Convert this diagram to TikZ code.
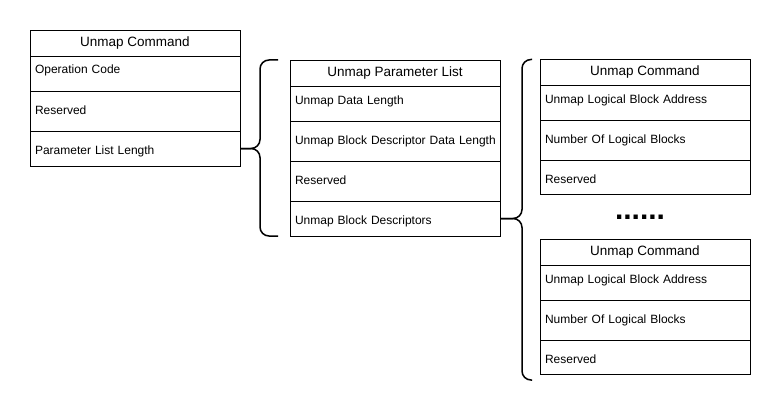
\documentclass[tikz,border=0pt]{standalone}
\usepackage{fontspec}
\setmainfont{Liberation Sans}
\usetikzlibrary{positioning}
\tikzset{
    hdr/.style={rectangle, draw, line width=0.8pt, outer sep=0pt, inner sep=0pt, minimum width=210pt, minimum height=26pt, font=\fontsize{13.5}{16}\selectfont},
    row/.style={rectangle, draw, line width=0.8pt, outer sep=0pt, inner xsep=5pt, inner ysep=0pt, text width=200pt, align=left, text height=9pt, text depth=3pt, font=\fontsize{12}{14}\selectfont},
    rowtop/.style={row, text depth=8pt},
    rowend/.style={row, text height=15pt},
    brace/.style={line width=1.5pt, rounded corners=9pt}
}

\begin{document}
\begin{tikzpicture}[x=1pt,y=-1pt]
\path[fill=white,use as bounding box] (0,0) rectangle (781,412);
% unmap command
\node[hdr, anchor=north west] (cmdT) at (30,30) {Unmap Command};
\node[rowtop, minimum height=35pt, below=0pt of cmdT] (cmdA) {Operation Code};
\node[row, minimum height=40pt, below=0pt of cmdA] (cmdB) {Reserved};
\node[rowend, minimum height=35pt, below=0pt of cmdB] (cmdC) {Parameter List Length};
% parameter list
\node[hdr, anchor=north west] (plstT) at (290,60) {Unmap Parameter List};
\node[rowtop, minimum height=35pt, below=0pt of plstT] (plstA) {Unmap Data Length};
\node[row, minimum height=40pt, below=0pt of plstA] (plstB) {\mbox{Unmap Block Descriptor Data Length}};
\node[row, minimum height=40pt, below=0pt of plstB] (plstC) {Reserved};
\node[rowend, minimum height=35pt, below=0pt of plstC] (plstD) {Unmap Block Descriptors};
% block descriptors
\node[hdr, anchor=north west] (lbaT) at (540,59.5) {Unmap Command};
\node[rowtop, minimum height=35pt, below=0pt of lbaT] (lbaA) {Unmap Logical Block Address};
\node[row, minimum height=40pt, below=0pt of lbaA] (lbaB) {Number Of Logical Blocks};
\node[rowend, minimum height=34pt, below=0pt of lbaB] (lbaC) {Reserved};
\node[font=\fontsize{30}{30}\selectfont\bfseries, anchor=base, inner sep=0pt] (dots) at (640,219) {......};
\node[hdr, anchor=north west] (lbbT) at (540,239.5) {Unmap Command};
\node[rowtop, minimum height=35pt, below=0pt of lbbT] (lbbA) {Unmap Logical Block Address};
\node[row, minimum height=40pt, below=0pt of lbbA] (lbbB) {Number Of Logical Blocks};
\node[rowend, minimum height=34pt, below=0pt of lbbB] (lbbC) {Reserved};
% braces
\draw[brace] ([xshift=-12pt]plstT.north west) -- ++(-18,0) |- (cmdC.east);
\draw[brace] (cmdC.east) -| ([xshift=-30pt]plstD.south west) -- ([xshift=-12pt]plstD.south west);
\draw[brace] ([xshift=-8pt]lbaT.north west) -- ++(-10,0) |- (plstD.east);
\draw[brace] (plstD.east) -| (522,380) -- (532,380);
\end{tikzpicture}
\end{document}
